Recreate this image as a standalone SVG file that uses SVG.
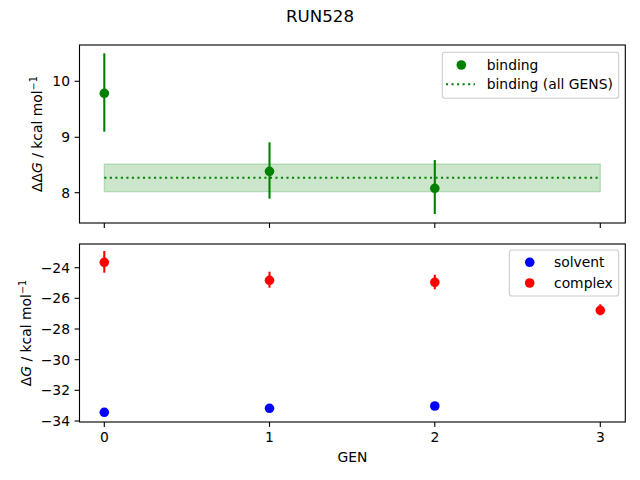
<svg xmlns="http://www.w3.org/2000/svg" width="640" height="480" viewBox="0 0 640 480">
<style>
text{font-family:"DejaVu Sans","Liberation Sans",sans-serif;font-size:13.89px;fill:#000}
.tl{text-anchor:end}
.tc{text-anchor:middle}
.spine{fill:none;stroke:#000;stroke-width:1.11;stroke-linecap:square}
.tick{stroke:#000;stroke-width:1.11}
.eg{stroke:#008000;stroke-width:2.08}
.er{stroke:#ff0000;stroke-width:2.08}
.mg{fill:#008000}
.mr{fill:#ff0000}
.mb{fill:#0000ff}
circle{r:4.8px}
.dot{stroke:#008000;stroke-width:2.08;stroke-dasharray:2.08 3.44;fill:none}
.leg{fill:#fff;fill-opacity:0.8;stroke:#cccccc;stroke-width:1.11}
</style>
<rect width="640" height="480" fill="#fff"/>
<text class="tc" x="320" y="22" style="font-size:16.67px">RUN528</text>

<g id="top-axes">
  <g id="band">
    <rect x="104.3" y="164" width="496" height="27.7" fill="#008000" fill-opacity="0.2" stroke="#008000" stroke-opacity="0.2" stroke-width="1.39"/>
    <line class="dot" x1="104.3" y1="177.7" x2="600.3" y2="177.7"/>
  </g>
  <g id="binding-points">
    <line class="eg" x1="104.3" y1="53.3" x2="104.3" y2="131.7"/>
    <circle class="mg" cx="104.3" cy="93.3" r="4.8"/>
    <line class="eg" x1="269.5" y1="142.3" x2="269.5" y2="198.7"/>
    <circle class="mg" cx="269.5" cy="171.3" r="4.8"/>
    <line class="eg" x1="434.8" y1="160" x2="434.8" y2="214"/>
    <circle class="mg" cx="434.8" cy="188.3" r="4.8"/>
  </g>
  <rect class="spine" x="79.5" y="45" width="545.8" height="178"/>
  <g id="top-ticks">
    <line class="tick" x1="104.3" y1="223" x2="104.3" y2="227.9"/>
    <line class="tick" x1="269.5" y1="223" x2="269.5" y2="227.9"/>
    <line class="tick" x1="434.8" y1="223" x2="434.8" y2="227.9"/>
    <line class="tick" x1="600.3" y1="223" x2="600.3" y2="227.9"/>
    <line class="tick" x1="74.6" y1="81.3" x2="79.5" y2="81.3"/>
    <line class="tick" x1="74.6" y1="137.3" x2="79.5" y2="137.3"/>
    <line class="tick" x1="74.6" y1="192.7" x2="79.5" y2="192.7"/>
    <text class="tl" x="70" y="86.3">10</text>
    <text class="tl" x="70" y="142.3">9</text>
    <text class="tl" x="70" y="197.7">8</text>
  </g>
  <text class="tc" transform="translate(41.5,134) rotate(-90)">ΔΔ<tspan font-style="italic">G</tspan> / kcal mol<tspan dy="-5" style="font-size:9.7px">−1</tspan></text>
  <g id="legend-top">
    <rect class="leg" x="442.3" y="52.3" width="176.4" height="46" rx="2.8"/>
    <circle class="mg" cx="461.3" cy="65" r="4.8"/>
    <line class="dot" x1="446" y1="84.3" x2="475" y2="84.3"/>
    <text x="486.7" y="69.8">binding</text>
    <text x="486.7" y="89.1">binding (all GENS)</text>
  </g>
</g>

<g id="bottom-axes">
  <g id="complex-points">
    <line class="er" x1="104.3" y1="251" x2="104.3" y2="272.7"/>
    <circle class="mr" cx="104.3" cy="262.3" r="4.8"/>
    <line class="er" x1="269.5" y1="271.7" x2="269.5" y2="287.7"/>
    <circle class="mr" cx="269.5" cy="280.3" r="4.8"/>
    <line class="er" x1="434.8" y1="274.7" x2="434.8" y2="289.3"/>
    <circle class="mr" cx="434.8" cy="282.3" r="4.8"/>
    <line class="er" x1="600.3" y1="304.3" x2="600.3" y2="315.3"/>
    <circle class="mr" cx="600.3" cy="310.3" r="4.8"/>
  </g>
  <g id="solvent-points">
    <circle class="mb" cx="104.3" cy="412.3" r="4.8"/>
    <circle class="mb" cx="269.5" cy="408.3" r="4.8"/>
    <circle class="mb" cx="434.8" cy="406" r="4.8"/>
  </g>
  <rect class="spine" x="79.5" y="244" width="545.8" height="178"/>
  <g id="bottom-ticks">
    <line class="tick" x1="104.3" y1="422" x2="104.3" y2="426.9"/>
    <line class="tick" x1="269.5" y1="422" x2="269.5" y2="426.9"/>
    <line class="tick" x1="434.8" y1="422" x2="434.8" y2="426.9"/>
    <line class="tick" x1="600.3" y1="422" x2="600.3" y2="426.9"/>
    <text class="tc" x="104.3" y="442">0</text>
    <text class="tc" x="269.5" y="442">1</text>
    <text class="tc" x="434.8" y="442">2</text>
    <text class="tc" x="600.3" y="442">3</text>
    <line class="tick" x1="74.6" y1="267.7" x2="79.5" y2="267.7"/>
    <line class="tick" x1="74.6" y1="298.3" x2="79.5" y2="298.3"/>
    <line class="tick" x1="74.6" y1="329" x2="79.5" y2="329"/>
    <line class="tick" x1="74.6" y1="359.7" x2="79.5" y2="359.7"/>
    <line class="tick" x1="74.6" y1="390.3" x2="79.5" y2="390.3"/>
    <line class="tick" x1="74.6" y1="421" x2="79.5" y2="421"/>
    <text class="tl" x="70" y="272.7">−24</text>
    <text class="tl" x="70" y="303.3">−26</text>
    <text class="tl" x="70" y="334">−28</text>
    <text class="tl" x="70" y="364.7">−30</text>
    <text class="tl" x="70" y="395.3">−32</text>
    <text class="tl" x="70" y="426">−34</text>
  </g>
  <text class="tc" x="352.4" y="462">GEN</text>
  <text class="tc" transform="translate(31,333) rotate(-90)">Δ<tspan font-style="italic">G</tspan> / kcal mol<tspan dy="-5" style="font-size:9.7px">−1</tspan></text>
  <g id="legend-bottom">
    <rect class="leg" x="509.3" y="250" width="109.4" height="46" rx="2.8"/>
    <circle class="mb" cx="529.7" cy="262.3" r="4.8"/>
    <circle class="mr" cx="529.7" cy="283" r="4.8"/>
    <text x="554" y="267.1">solvent</text>
    <text x="554" y="287.8">complex</text>
  </g>
</g>
</svg>
